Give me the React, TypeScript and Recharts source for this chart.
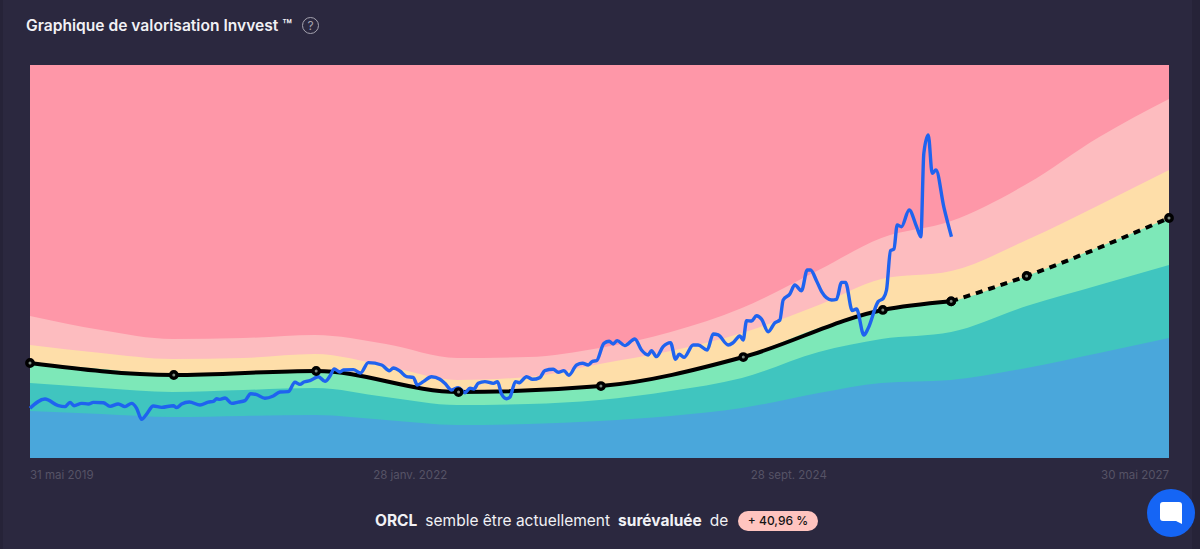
import { ComposedChart, Area, Line, XAxis, YAxis } from "recharts";

// Time is in fractional years, values in USD
const bandYears = [2019.41, 2019.91, 2020.41, 2020.91, 2021.41, 2021.91, 2022.41, 2022.91, 2023.41, 2023.91, 2024.41, 2024.95, 2025.39, 2025.88, 2026.41, 2026.92, 2027.41];
const ceiling = [420, 420, 420, 420, 420, 420, 420, 420, 420, 420, 420, 420, 420, 420, 420, 420, 420];
const paleRedTop = [151.8, 136.8, 127.2, 128.2, 131.5, 121.8, 106.9, 107.9, 117.6, 134.7, 160.3, 200.9, 235.1, 253.3, 292.8, 343.1, 383.7];
const yellowTop = [120.8, 112.2, 105.8, 106.9, 111.1, 98.3, 83.4, 86.6, 100.5, 114.4, 133.6, 163.5, 191.3, 199.8, 233.0, 270.4, 307.8];
const greenTop = [101.5, 95.1, 88.7, 90.8, 93.0, 82.3, 70.5, 71.6, 76.9, 89.8, 107.9, 138.9, 158.2, 167.4, 194.5, 225.5, 256.5];
const tealTop = [80.2, 74.8, 70.5, 72.7, 74.8, 65.2, 56.6, 57.7, 62.0, 71.6, 85.5, 113.3, 127.2, 134.7, 162.4, 184.9, 206.3];
const blueTop = [50.2, 47.0, 43.8, 44.9, 46.0, 40.6, 35.3, 36.3, 39.5, 44.9, 53.4, 69.5, 80.2, 83.4, 96.2, 112.2, 128.2];

const fairYears = [2019.41, 2020.42, 2021.42, 2022.42, 2023.42, 2024.42, 2025.4, 2025.88];
const fairValues = [101.5, 88.7, 93.0, 70.5, 76.9, 107.9, 158.2, 167.4];
const forecastYears = [2025.88, 2026.41, 2027.41];
const forecastValues = [167.4, 194.5, 256.5];

const priceYears = [
  2019.41, 2019.515, 2019.609, 2019.656, 2019.691, 2019.719, 2019.773, 2019.82, 2019.855, 2019.925,
  2019.972, 2020.03, 2020.077, 2020.124, 2020.159, 2020.194, 2020.229, 2020.276, 2020.335, 2020.417,
  2020.44, 2020.475, 2020.529, 2020.604, 2020.662, 2020.698, 2020.721, 2020.744, 2020.78, 2020.826,
  2020.873, 2020.92, 2020.96, 2021.002, 2021.06, 2021.119, 2021.166, 2021.224, 2021.271, 2021.306,
  2021.334, 2021.376, 2021.435, 2021.482, 2021.517, 2021.547, 2021.587, 2021.611, 2021.681, 2021.732,
  2021.786, 2021.88, 2021.934, 2021.962, 2022.008, 2022.055, 2022.102, 2022.13, 2022.172, 2022.23,
  2022.289, 2022.324, 2022.371, 2022.418, 2022.465, 2022.5, 2022.528, 2022.558, 2022.605, 2022.664,
  2022.694, 2022.722, 2022.757, 2022.78, 2022.82, 2022.846, 2022.898, 2022.94, 2022.991, 2023.026,
  2023.085, 2023.12, 2023.16, 2023.195, 2023.249, 2023.291, 2023.331, 2023.361, 2023.389, 2023.441,
  2023.478, 2023.506, 2023.534, 2023.588, 2023.658, 2023.705, 2023.752, 2023.775, 2023.81, 2023.857,
  2023.909, 2023.944, 2023.97, 2024.003, 2024.068, 2024.103, 2024.166, 2024.209, 2024.244, 2024.314,
  2024.349, 2024.396, 2024.419, 2024.443, 2024.478, 2024.513, 2024.548, 2024.595, 2024.642, 2024.677,
  2024.7, 2024.747, 2024.782, 2024.829, 2024.869, 2024.892, 2024.934, 2024.97, 2025.04, 2025.075,
  2025.11, 2025.138, 2025.185, 2025.215, 2025.267, 2025.297, 2025.367, 2025.403, 2025.426, 2025.454,
  2025.478, 2025.501, 2025.531, 2025.585, 2025.637, 2025.667, 2025.688, 2025.719, 2025.747, 2025.773,
  2025.829, 2025.882,
];
const priceValues = [
  53.1, 63.0, 55.9, 54.9, 59.5, 55.9, 58.4, 57.7, 59.5, 59.1,
  55.2, 57.7, 54.9, 58.4, 53.1, 41.3, 47.0, 55.6, 54.1, 55.9,
  53.8, 57.7, 59.8, 56.6, 59.8, 60.6, 63.4, 62.7, 64.1, 58.4,
  59.8, 61.3, 68.7, 67.7, 63.8, 66.3, 70.5, 70.9, 80.9, 78.7,
  81.2, 82.6, 86.9, 81.9, 87.6, 95.1, 91.9, 94.0, 94.4, 90.8,
  101.9, 99.4, 93.3, 96.2, 93.0, 86.9, 86.2, 78.0, 81.6, 86.9,
  84.1, 79.8, 72.7, 75.2, 69.8, 74.5, 73.8, 79.8, 81.6, 79.8,
  81.6, 68.4, 63.4, 64.9, 81.6, 80.5, 86.9, 84.1, 85.9, 93.4,
  94.8, 91.6, 93.4, 88.4, 99.4, 101.2, 99.4, 103.3, 104.0, 122.6,
  124.7, 121.9, 125.4, 120.1, 127.2, 115.4, 110.1, 114.7, 108.3, 119.0,
  123.3, 105.5, 110.8, 107.6, 120.8, 120.8, 115.4, 132.5, 131.5, 120.8,
  123.3, 130.4, 126.1, 146.8, 146.4, 152.1, 148.5, 135.0, 144.6, 147.5,
  168.9, 175.3, 184.9, 178.8, 200.9, 200.9, 189.5, 177.8, 168.9, 169.6,
  187.7, 187.7, 157.5, 159.2, 131.4, 138.6, 167.1, 170.6, 179.5, 221.6,
  223.4, 249.0, 247.2, 265.0, 247.2, 236.5, 325.6, 345.2, 304.2, 307.8,
  267.9, 236.5,
];

const tickYears = [2019.41, 2022.08, 2024.74, 2027.41];
const tickLabels = ["31 mai 2019", "28 janv. 2022", "28 sept. 2024", "30 mai 2027"];

const series = (xs: number[], ys: number[]) => xs.map((x, i) => ({ x, y: ys[i] }));

const bands = [
  { name: "tres-surevalue", values: ceiling, fill: "#fe97a8" },
  { name: "surevalue", values: paleRedTop, fill: "#fdbcbf" },
  { name: "legerement-surevalue", values: yellowTop, fill: "#fedea9" },
  { name: "juste-valeur", values: greenTop, fill: "#7de8b8" },
  { name: "sous-evalue", values: tealTop, fill: "#40c5bf" },
  { name: "tres-sous-evalue", values: blueTop, fill: "#4aa7db" },
];

const DateTick = ({ x, y, payload, index }: any) => {
  const anchor = index === 0 ? "start" : index === tickLabels.length - 1 ? "end" : "middle";
  return (
    <text x={x} y={y + 13} textAnchor={anchor} fill="#565366" fontSize={11.5} fontFamily="Inter">
      {tickLabels[tickYears.indexOf(payload.value)]}
    </text>
  );
};

const KnotDot = ({ cx, cy }: any) => (
  <circle cx={cx} cy={cy} r={3.2} fill="#7d8a80" stroke="#000" strokeWidth={3.4} />
);

export default function App() {
  return (
    <div style={{ position: "absolute", left: 0, top: 0, width: 1200, height: 549, background: "#2b283f", overflow: "hidden", fontFamily: "Inter" }}>
      <div style={{ position: "absolute", left: 0, top: 0, width: 3, height: 549, background: "#262338" }} />
      <div style={{ position: "absolute", left: 1192, top: 0, width: 8, height: 549, background: "#262338" }} />
      <ComposedChart width={1200} height={549} margin={{ top: 65, right: 31, bottom: 61, left: 30 }}>
        <XAxis
          dataKey="x"
          type="number"
          domain={[2019.41, 2027.41]}
          ticks={tickYears}
          tick={<DateTick />}
          axisLine={false}
          tickLine={false}
          height={30}
          allowDuplicatedCategory={false}
        />
        <YAxis hide domain={[0, 420]} type="number" />
        {bands.map((b) => (
          <Area
            key={b.name}
            data={series(bandYears, b.values)}
            dataKey="y"
            type="monotone"
            stroke="none"
            fill={b.fill}
            fillOpacity={1}
            baseValue={0}
            dot={false}
            activeDot={false}
            isAnimationActive={false}
          />
        ))}
        <Line
          data={series(fairYears, fairValues)}
          dataKey="y"
          type="monotone"
          stroke="#000"
          strokeWidth={4}
          dot={<KnotDot />}
          isAnimationActive={false}
        />
        <Line
          data={series(forecastYears, forecastValues)}
          dataKey="y"
          type="monotone"
          stroke="#000"
          strokeWidth={4}
          strokeDasharray="7 6"
          dot={<KnotDot />}
          isAnimationActive={false}
        />
        <Line
          data={series(priceYears, priceValues)}
          dataKey="y"
          type="monotone"
          stroke="#1f63ef"
          strokeWidth={3.4}
          dot={false}
          isAnimationActive={false}
        />
      </ComposedChart>

      <div style={{ position: "absolute", left: 26, top: 16, fontSize: 15.6, fontWeight: 600, color: "#f1f1f5", lineHeight: "20px", whiteSpace: "nowrap" }}>
        Graphique de valorisation Invvest ™
      </div>
      <div style={{ position: "absolute", left: 302, top: 17, width: 15, height: 15, border: "1.3px solid #a5a3af", borderRadius: "50%", color: "#a5a3af", fontSize: 12, lineHeight: "15px", textAlign: "center" }}>
        ?
      </div>

      <div style={{ position: "absolute", left: 375, top: 511, height: 20, lineHeight: "20px", fontSize: 15.5, color: "#f1f1f5", whiteSpace: "nowrap" }}>
        <b style={{ fontWeight: 700 }}>ORCL</b>
        <span style={{ marginLeft: 8 }}>semble être actuellement</span>
        <b style={{ fontWeight: 700, marginLeft: 8 }}>surévaluée</b>
        <span style={{ marginLeft: 8 }}>de</span>
      </div>
      <div style={{ position: "absolute", left: 738, top: 511, width: 80, height: 20, borderRadius: 10, background: "#ffc4bf", color: "#141414", fontSize: 12, fontWeight: 500, lineHeight: "20px", textAlign: "center" }}>
        + 40,96 %
      </div>

      <div style={{ position: "absolute", left: 1147, top: 489, width: 48, height: 48, borderRadius: "50%", background: "#1565f5" }}>
        <svg width={48} height={48}>
          <path d="M13 16 a3 3 0 0 1 3-3 h16 a3 3 0 0 1 3 3 v19 l-6-3 h-13 a3 3 0 0 1-3-3 z" fill="#fff" />
        </svg>
      </div>
    </div>
  );
}
